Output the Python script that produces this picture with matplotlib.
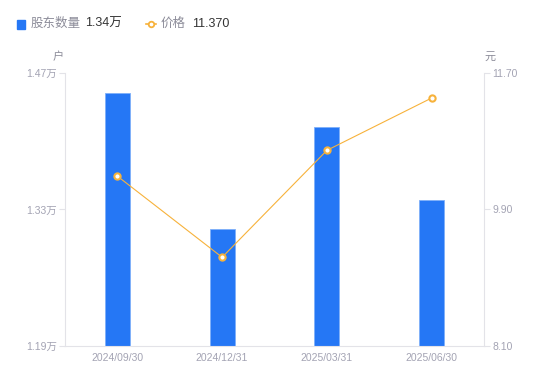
import matplotlib
matplotlib.use('Agg')
import matplotlib.pyplot as plt
from matplotlib.lines import Line2D
from matplotlib.patches import Rectangle

plt.rcParams['font.family'] = ['Liberation Sans', 'Noto Sans CJK SC', 'DejaVu Sans']

# data
dates = ['2024/09/30', '2024/12/31', '2025/03/31', '2025/06/30']
holders = [1.45, 1.31, 1.415, 1.34]      # 万户
price = [10.34, 9.27, 10.68, 11.37]     # 元
left_ticks = [1.19, 1.33, 1.47]
right_ticks = [8.10, 9.90, 11.70]

bar_c = '#2577f5'
line_c = '#f7b23b'
grid_c = '#e3e3e8'
txt_c = '#a3a3b3'

fig = plt.figure(figsize=(5.5, 3.81), dpi=100)
ax = fig.add_axes([65/550, 35/381, 419/550, 273/381])
x = list(range(len(dates)))
ax.bar(x, holders, width=0.24, color=bar_c, edgecolor='#7fb0fa', linewidth=0.6, zorder=2)
ax.set_xlim(-0.5, 3.5)
ax.set_ylim(left_ticks[0], left_ticks[-1])
ax.set_yticks(left_ticks)
ax.set_yticklabels(['%.2f万' % v for v in left_ticks])
ax.set_xticks(x)
ax.set_xticklabels(dates)

ax2 = ax.twinx()
ax2.plot(x, price, color=line_c, linewidth=0.8, marker='o', markersize=4.5,
         markerfacecolor='white', markeredgecolor=line_c, markeredgewidth=1.5, zorder=3)
ax2.set_ylim(right_ticks[0], right_ticks[-1])
ax2.set_yticks(right_ticks)
ax2.set_yticklabels(['%.2f' % v for v in right_ticks])

for a in (ax, ax2):
    for s in a.spines.values():
        s.set_visible(False)
    a.tick_params(labelsize=7.5, colors=txt_c, length=4, width=0.8, color=grid_c, pad=2)
ax.spines['left'].set_visible(True)
ax.spines['left'].set_color(grid_c)
ax.spines['bottom'].set_visible(True)
ax.spines['bottom'].set_color(grid_c)
ax2.spines['right'].set_visible(True)
ax2.spines['right'].set_color(grid_c)
ax.tick_params(axis='x', length=0, pad=5)

fig.text(58/550, 1 - 57/381, '户', fontsize=8, color='#8c8c99', ha='center', va='center')
fig.text(490/550, 1 - 57/381, '元', fontsize=8, color='#8c8c99', ha='center', va='center')

# legend header
fig.patches.append(Rectangle((17/550, 1 - 29/381), 8/550, 9/381, transform=fig.transFigure,
                             color=bar_c, figure=fig))
fig.text(31/550, 1 - 24/381, '股东数量', fontsize=9, color='#8c8c99', va='center')
fig.text(85/550, 1 - 24/381, '%.2f万' % holders[-1], fontsize=9, color='#333333', va='center')
fig.lines.append(Line2D([146/550, 151/550, 156/550], [1 - 24/381] * 3, transform=fig.transFigure,
                        color=line_c, linewidth=1.2, marker='o', markersize=4,
                        markerfacecolor='white', markeredgecolor=line_c, markeredgewidth=1.3,
                        markevery=[1], figure=fig))
fig.text(161/550, 1 - 24/381, '价格', fontsize=9, color='#8c8c99', va='center')
fig.text(192/550, 1 - 24/381, '%.3f' % price[-1], fontsize=9, color='#333333', va='center')

fig.savefig('out.png', dpi=100)
